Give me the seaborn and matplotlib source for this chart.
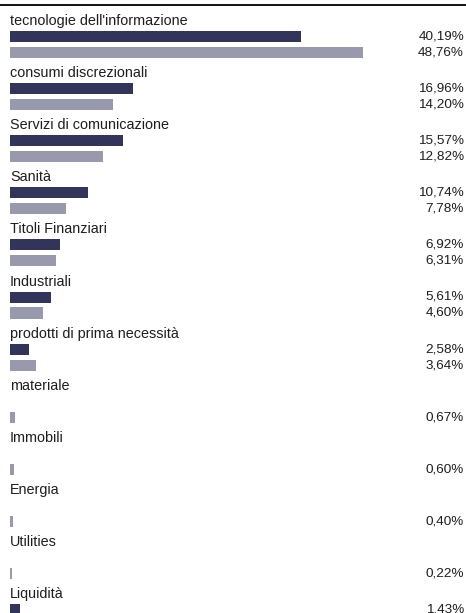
import numpy as np
import pandas as pd
import matplotlib
matplotlib.use("Agg")
import matplotlib.pyplot as plt
import seaborn as sns

categories = ["tecnologie dell'informazione", "consumi discrezionali",
              "Servizi di comunicazione", "Sanità", "Titoli Finanziari",
              "Industriali", "prodotti di prima necessità", "materiale",
              "Immobili", "Energia", "Utilities", "Liquidità"]
fund = [40.19, 16.96, 15.57, 10.74, 6.92, 5.61, 2.58,
        np.nan, np.nan, np.nan, np.nan, 1.43]
bench = [48.76, 14.20, 12.82, 7.78, 6.31, 4.60, 3.64,
         0.67, 0.60, 0.40, 0.22, np.nan]
series_names = ["Fondo", "Indice"]
colors = ["#2c2e61", "#9695b1"]

sns.set_theme(style="white")
plt.rcParams['font.family'] = ['Liberation Sans', 'DejaVu Sans']

rows = []
for i, cat in enumerate(categories):
    for s, (name, vals) in enumerate(zip(series_names, [fund, bench])):
        v = vals[i]
        if not np.isnan(v):
            rows.append({"cat": cat, "series": name, "value": v,
                         "pos": 3 * i + 1 + 0.92 * s})
df = pd.DataFrame(rows)

fig = plt.figure(figsize=(4.66, 6.13), dpi=100)
ax = fig.add_axes([0, 0, 1, 1])

sns.barplot(data=df, x="value", y="pos", hue="series", orient="h",
            native_scale=True, dodge=False, palette=colors,
            hue_order=series_names, width=0.69, linewidth=0,
            legend=False, ax=ax)

xl, xr = -10 / 7.24, (466 - 10) / 7.24
ax.set_xlim(xl, xr)
ytop, ybot = -19.1 / 17.37, (613 - 19.1) / 17.37
ax.set_ylim(ybot, ytop)

txt_color = "#1e1e1e"
for i, cat in enumerate(categories):
    ax.text(0, 3 * i + 0.34, cat, ha="left", va="baseline", fontsize=10.4,
            color=txt_color)
for _, r in df.iterrows():
    ax.text(xl + (464 / 466) * (xr - xl), r["pos"] + 0.17,
            f"{r['value']:.2f}".replace(".", ",") + "%",
            ha="right", va="baseline", fontsize=9.7, color=txt_color)

ax.axhline((4.5 - 19.1) / 17.37, color="black", linewidth=1.3)

ax.set_axis_off()
fig.savefig("out.png", dpi=100)
